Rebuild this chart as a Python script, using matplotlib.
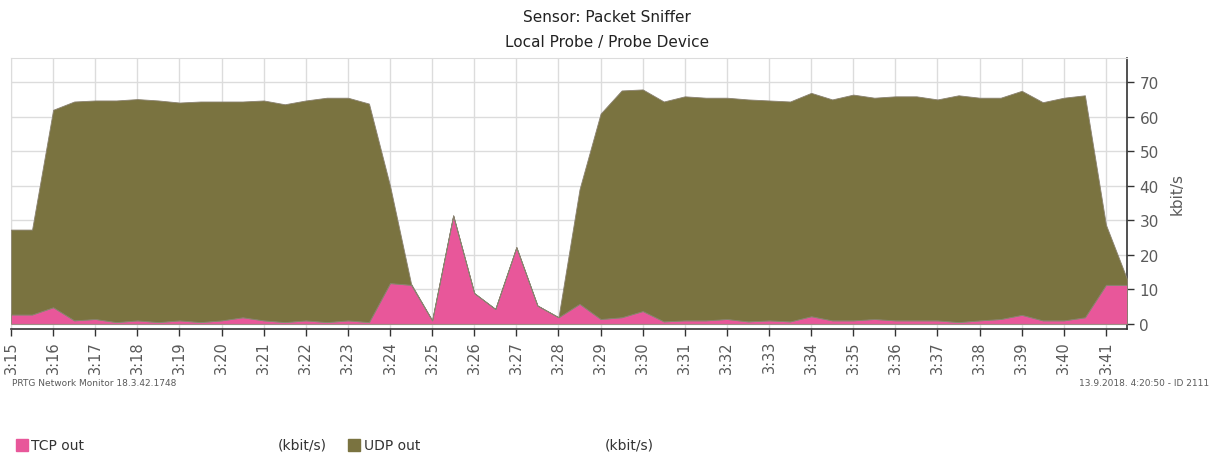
import numpy as np
import matplotlib
matplotlib.use('Agg')
import matplotlib.pyplot as plt

# samples every 30 s, starting 3:15
start_min = 15
step_min = 0.5

tcp_out = [2.7, 2.7, 4.8, 1.0, 1.4, 0.5, 1.0, 0.5, 1.0, 0.5,
           1.0, 1.9, 1.0, 0.5, 1.0, 0.5, 1.0, 0.5, 11.8, 11.3,
           1.0, 31.4, 8.9, 4.3, 22.2, 5.3, 1.9, 5.8, 1.4, 1.9,
           3.7, 0.7, 1.0, 1.0, 1.4, 0.7, 1.0, 0.7, 2.2, 1.0,
           1.0, 1.4, 1.0, 1.0, 1.0, 0.5, 1.0, 1.4, 2.6, 1.0,
           1.0, 1.9, 11.3, 11.3]
udp_out = [24.6, 24.6, 57.2, 63.4, 63.3, 64.2, 64.1, 64.2, 63.1, 63.9,
           63.4, 62.5, 63.7, 63.1, 63.7, 65.0, 64.5, 63.3, 28.2, 0.3,
           0.0, 0.0, 0.0, 0.0, 0.0, 0.0, 0.0, 33.2, 59.5, 65.7,
           64.2, 63.7, 64.9, 64.5, 64.1, 64.3, 63.7, 63.7, 64.7, 64.0,
           65.4, 64.1, 64.9, 64.9, 64.0, 65.7, 64.5, 64.1, 64.9, 63.2,
           64.5, 64.3, 17.4, 1.7]
tick_minutes = list(range(15, 42))
tick_labels = ['3:%d' % m for m in tick_minutes]
y_ticks = [0, 10, 20, 30, 40, 50, 60, 70]

minutes = start_min + step_min * np.arange(len(tcp_out))

tcp_color = '#e8579a'
udp_color = '#7a7340'
text_color = '#5a5a5a'

W, H = 1215, 456
fig = plt.figure(figsize=(W / 100, H / 100), dpi=100)
ax = fig.add_axes([11 / W, 1 - 330 / H, (1127 - 11) / W, (330 - 59) / H])

ax.stackplot(minutes, tcp_out, udp_out, colors=[tcp_color, udp_color],
             edgecolor='#8a8270', linewidth=0.6, zorder=3)

ax.set_xlim(15, 41.5)
ax.set_ylim(-1.5, 77)
ax.set_xticks(tick_minutes)
ax.set_xticklabels(tick_labels, rotation=90, fontsize=10.5, color=text_color)
ax.set_yticks(y_ticks)
ax.yaxis.tick_right()
ax.yaxis.set_label_position('right')
ax.tick_params(axis='y', labelsize=11, colors='#333333', labelcolor=text_color,
               length=5, width=1, pad=4)
ax.tick_params(axis='x', colors='#333333', labelcolor=text_color,
               length=5, width=1, pad=3)
ax.set_ylabel('kbit/s', fontsize=11, color=text_color, labelpad=8)
ax.grid(True, color='#dcdcdc', linewidth=1, zorder=0)
ax.set_axisbelow(True)

for s in ['left', 'top']:
    ax.spines[s].set_color('#dcdcdc')
for s in ['right', 'bottom']:
    ax.spines[s].set_color('#333333')
    ax.spines[s].set_linewidth(1.2)

fig.text(607 / W, 1 - 18 / H, 'Sensor: Packet Sniffer', ha='center', va='center',
         fontsize=11, color='#222222')
fig.text(607 / W, 1 - 43 / H, 'Local Probe / Probe Device', ha='center', va='center',
         fontsize=11, color='#222222')

fig.text(12 / W, 1 - 384 / H, 'PRTG Network Monitor 18.3.42.1748', ha='left',
         va='center', fontsize=6.5, color=text_color)
fig.text(1209 / W, 1 - 384 / H, '13.9.2018. 4:20:50 - ID 2111', ha='right',
         va='center', fontsize=6.5, color=text_color)

# legend row
leg_y = 1 - 446 / H
fig.patches.append(plt.Rectangle((16 / W, 1 - 452 / H), 12 / W, 12 / H,
                                 transform=fig.transFigure, color=tcp_color))
fig.text(31 / W, leg_y, 'TCP out', ha='left', va='center', fontsize=10, color='#333333')
fig.text(278 / W, leg_y, '(kbit/s)', ha='left', va='center', fontsize=10, color='#333333')
fig.patches.append(plt.Rectangle((348 / W, 1 - 452 / H), 12 / W, 12 / H,
                                 transform=fig.transFigure, color=udp_color))
fig.text(364 / W, leg_y, 'UDP out', ha='left', va='center', fontsize=10, color='#333333')
fig.text(605 / W, leg_y, '(kbit/s)', ha='left', va='center', fontsize=10, color='#333333')

fig.savefig('out.png', dpi=100)
